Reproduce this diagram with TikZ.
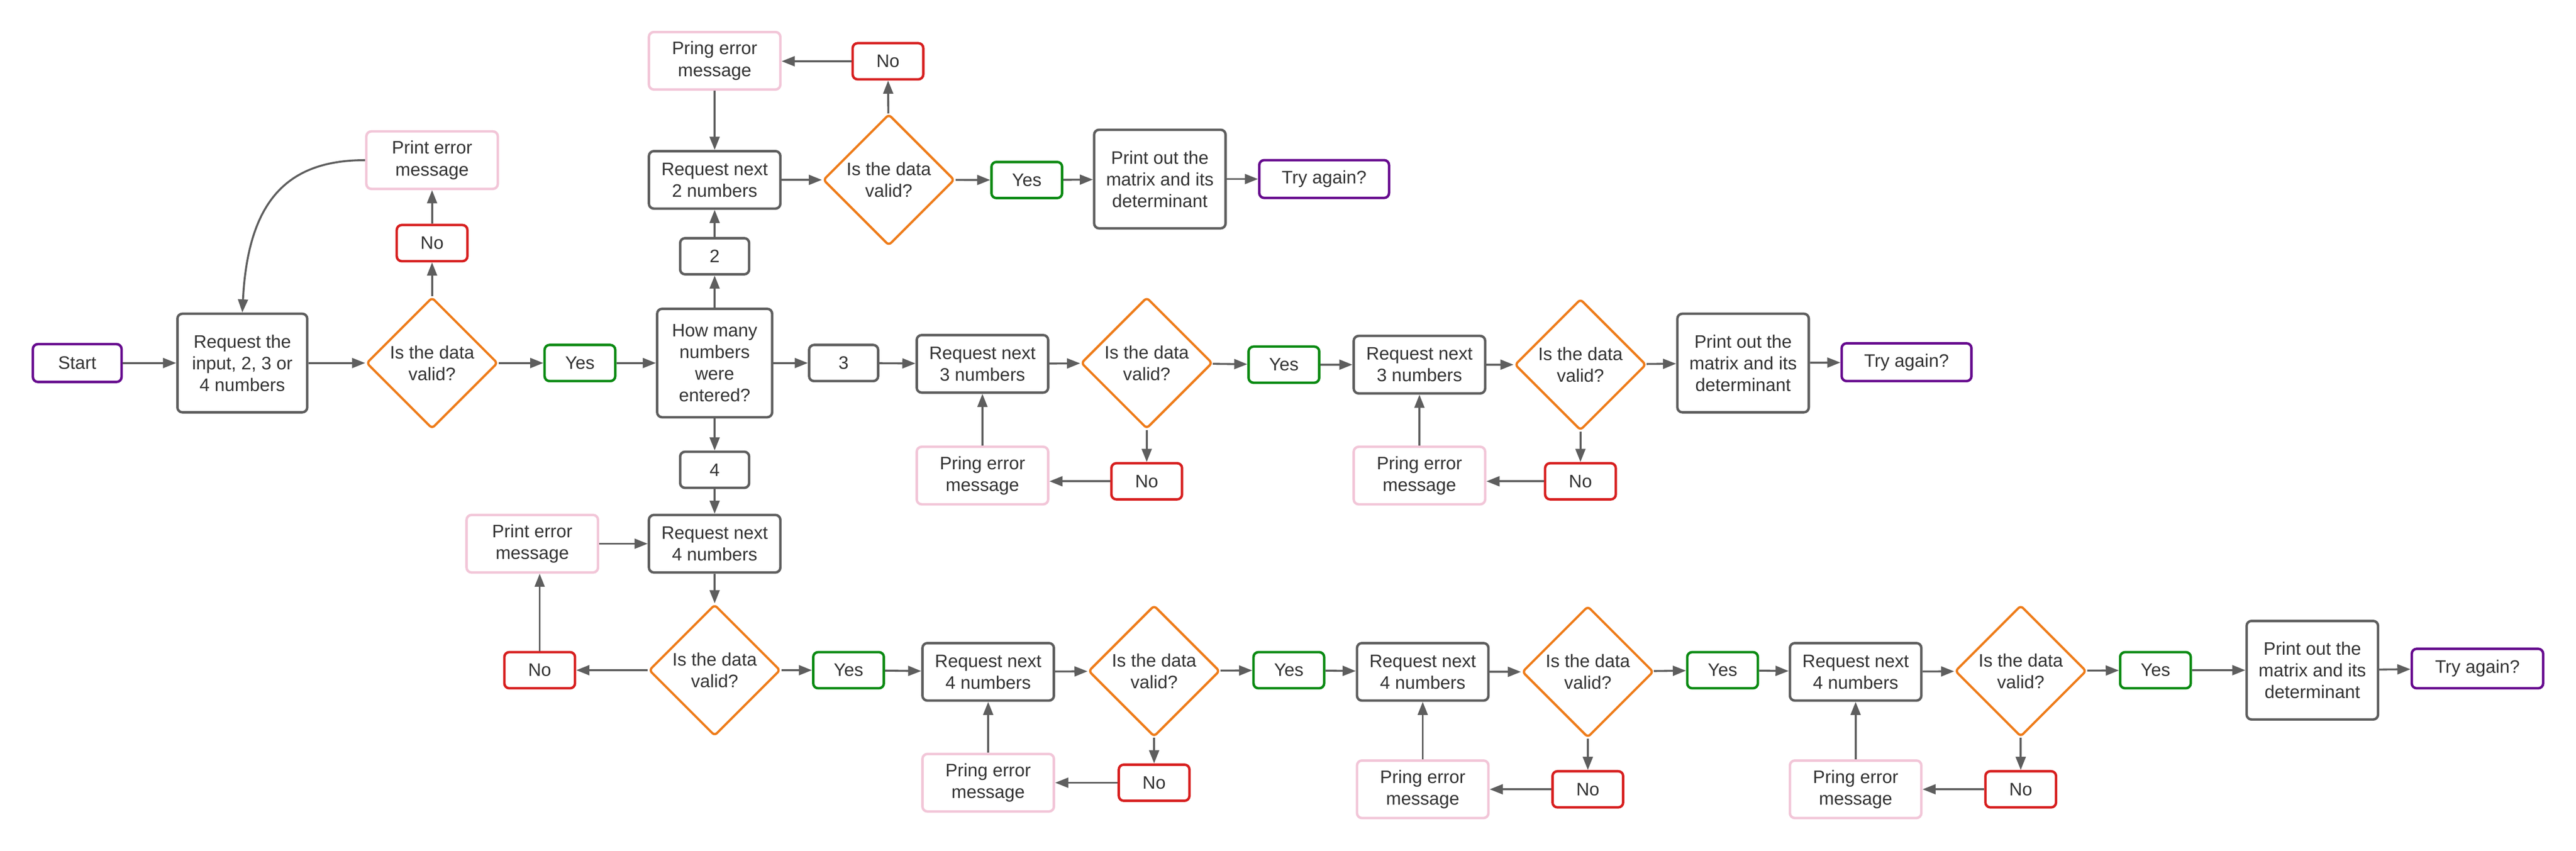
\documentclass[tikz,border=0pt]{standalone}
\usepackage{fontspec}
\setmainfont{Liberation Sans}
\usetikzlibrary{shapes.geometric,arrows.meta}
\definecolor{txt}{HTML}{333333}
\definecolor{gborder}{HTML}{5E5E5E}
\definecolor{pinkc}{HTML}{F2C6D8}
\definecolor{redc}{HTML}{D71F1F}
\definecolor{greenc}{HTML}{0A8A12}
\definecolor{purplec}{HTML}{66098E}
\definecolor{orangec}{HTML}{EE7C1A}
\definecolor{arrc}{HTML}{5E5E5E}
\newcommand{\fs}{\fontsize{11}{13.2}\selectfont}
\tikzset{
 base/.style={rounded corners=3pt, line width=1.5pt, fill=white, align=center, inner sep=0pt, text=txt, font=\fs},
 proc/.style={base, draw=gborder},
 errbox/.style={base, draw=pinkc, minimum width=80pt, minimum height=35pt},
 reqbox/.style={proc, minimum width=80pt, minimum height=35pt},
 numbox/.style={proc, minimum width=42pt, minimum height=22pt},
 nobox/.style={base, draw=redc, minimum width=43pt, minimum height=22pt},
 yesbox/.style={base, draw=greenc, minimum width=43pt, minimum height=22pt},
 termbox/.style={base, draw=purplec, minimum height=23pt},
 outbox/.style={proc, minimum width=80pt, minimum height=60pt},
 decision/.style={diamond, draw=orangec, line width=1.4pt, rounded corners=2pt, minimum width=80pt, minimum height=80pt, inner sep=0pt, align=center, text=txt, font=\fs, fill=white},
 arr/.style={draw=arrc, line width=1.2pt, -{Triangle[length=8pt,width=6pt]}},
}
\begin{document}
\begin{tikzpicture}[x=1pt,y=-1pt]
\useasboundingbox (0,0) rectangle (1568,518.07);
\fill[white] (0,0) rectangle (1568,518.07);

% ---- row 1 ----
\node[termbox, minimum width=54pt] (start) at (47,221) {Start};
\node[proc, minimum width=79pt, minimum height=60pt] (req0) at (147.5,221) {Request the\\input, 2, 3 or\\4 numbers};
\node[decision] (d0) at (263,221) {Is the data\\valid?};
\node[nobox] (no0) at (263,148) {No};
\node[errbox] (err0) at (263,97.5) {Print error\\message};
\node[yesbox] (yes0) at (353,221) {Yes};
\node[proc, minimum width=70pt, minimum height=66pt] (how) at (435,221) {How many\\numbers\\were\\entered?};

% ---- branch 2 ----
\node[numbox] (n2) at (435,156) {2};
\node[reqbox] (req2) at (435,109.5) {Request next\\2 numbers};
\node[errbox] (err2) at (435,37) {Pring error\\message};
\node[decision] (d2) at (541,109.5) {Is the data\\valid?};
\node[nobox] (no2) at (540.5,37.3) {No};
\node[yesbox] (yes2) at (625,109.6) {Yes};
\node[outbox] (out2) at (706,109) {Print out the\\matrix and its\\determinant};
\node[termbox, minimum width=79pt] (try2) at (806,109) {Try again?};

% ---- branch 3 ----
\node[numbox] (n3) at (513.5,221) {3};
\node[reqbox] (req3a) at (598,221.5) {Request next\\3 numbers};
\node[decision] (d3a) at (698,221) {Is the data\\valid?};
\node[nobox] (no3a) at (698,293) {No};
\node[errbox] (err3a) at (598,289.5) {Pring error\\message};
\node[yesbox] (yes3) at (781.5,222) {Yes};
\node[reqbox] (req3b) at (864,222) {Request next\\3 numbers};
\node[decision] (d3b) at (962,222) {Is the data\\valid?};
\node[nobox] (no3b) at (962,293) {No};
\node[errbox] (err3b) at (864,289.5) {Pring error\\message};
\node[outbox] (out3) at (1061,221) {Print out the\\matrix and its\\determinant};
\node[termbox, minimum width=79pt] (try3) at (1160.5,220.5) {Try again?};

% ---- branch 4 ----
\node[numbox] (n4) at (435,286) {4};
\node[reqbox] (req4a) at (435,331) {Request next\\4 numbers};
\node[errbox] (err4a) at (324,331) {Print error\\message};
\node[decision] (d4a) at (435,408) {Is the data\\valid?};
\node[nobox] (no4a) at (328.5,408) {No};
\node[yesbox] (yes4a) at (516.5,408) {Yes};
\node[reqbox] (req4b) at (601.5,409) {Request next\\4 numbers};
\node[decision] (d4b) at (702.5,408.5) {Is the data\\valid?};
\node[nobox] (no4b) at (702.5,476.5) {No};
\node[errbox] (err4b) at (601.5,476.5) {Pring error\\message};
\node[yesbox] (yes4b) at (784.5,408) {Yes};
\node[reqbox] (req4c) at (866,409) {Request next\\4 numbers};
\node[decision] (d4c) at (966.5,409) {Is the data\\valid?};
\node[nobox] (no4c) at (966.5,480.5) {No};
\node[errbox] (err4c) at (866,480.5) {Pring error\\message};
\node[yesbox] (yes4c) at (1048.5,408) {Yes};
\node[reqbox] (req4d) at (1129.5,409) {Request next\\4 numbers};
\node[decision] (d4d) at (1230,408.5) {Is the data\\valid?};
\node[nobox] (no4d) at (1230,480.5) {No};
\node[errbox] (err4d) at (1129.5,480.5) {Pring error\\message};
\node[yesbox] (yes4d) at (1312,408) {Yes};
\node[outbox] (out4) at (1407.5,408) {Print out the\\matrix and its\\determinant};
\node[termbox, minimum width=80pt, minimum height=24pt] (try4) at (1508,407) {Try again?};

% ---- connectors row 1 ----
\draw[arr] (start) -- (req0);
\draw[arr] (req0) -- (d0);
\draw[arr] (d0) -- (no0);
\draw[arr] (no0) -- (err0);
\draw[arr] (err0.west) .. controls (175,97.5) and (151,122) .. (req0.north);
\draw[arr] (d0) -- (yes0);
\draw[arr] (yes0) -- (how);

% ---- branch 2 ----
\draw[arr] (how) -- (n2);
\draw[arr] (n2) -- (req2);
\draw[arr] (err2) -- (req2);
\draw[arr] (req2) -- (d2);
\draw[arr] (d2) -- (no2);
\draw[arr] (no2.west) -- (no2.west -| err2.east);
\draw[arr] (d2) -- (yes2);
\draw[arr] (yes2) -- (out2);
\draw[arr] (out2) -- (try2);

% ---- branch 3 ----
\draw[arr] (how) -- (n3);
\draw[arr] (n3) -- (req3a);
\draw[arr] (req3a) -- (d3a);
\draw[arr] (d3a) -- (no3a);
\draw[arr] (no3a.west) -- (no3a.west -| err3a.east);
\draw[arr] (err3a) -- (req3a);
\draw[arr] (d3a) -- (yes3);
\draw[arr] (yes3) -- (req3b);
\draw[arr] (req3b) -- (d3b);
\draw[arr] (d3b) -- (no3b);
\draw[arr] (no3b.west) -- (no3b.west -| err3b.east);
\draw[arr] (err3b) -- (req3b);
\draw[arr] (d3b) -- (out3);
\draw[arr] (out3) -- (try3);

% ---- branch 4 ----
\draw[arr] (how) -- (n4);
\draw[arr] (n4) -- (req4a);
\draw[arr] (err4a) -- (req4a);
\draw[arr] (req4a) -- (d4a);
\draw[arr] (d4a) -- (no4a);
\draw[arr] (no4a.north) -- (no4a.north |- err4a.south);
\draw[arr] (d4a) -- (yes4a);
\draw[arr] (yes4a) -- (req4b);
\draw[arr] (req4b) -- (d4b);
\draw[arr] (d4b) -- (no4b);
\draw[arr] (no4b.west) -- (no4b.west -| err4b.east);
\draw[arr] (err4b) -- (req4b);
\draw[arr] (d4b) -- (yes4b);
\draw[arr] (yes4b) -- (req4c);
\draw[arr] (req4c) -- (d4c);
\draw[arr] (d4c) -- (no4c);
\draw[arr] (no4c.west) -- (no4c.west -| err4c.east);
\draw[arr] (err4c) -- (req4c);
\draw[arr] (d4c) -- (yes4c);
\draw[arr] (yes4c) -- (req4d);
\draw[arr] (req4d) -- (d4d);
\draw[arr] (d4d) -- (no4d);
\draw[arr] (no4d.west) -- (no4d.west -| err4d.east);
\draw[arr] (err4d) -- (req4d);
\draw[arr] (d4d) -- (yes4d);
\draw[arr] (yes4d) -- (out4);
\draw[arr] (out4) -- (try4);
\end{tikzpicture}
\end{document}
